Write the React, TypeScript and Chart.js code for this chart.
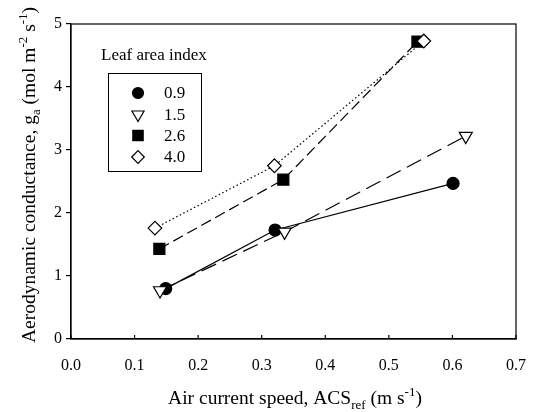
import React, { useEffect, useRef } from "react";
import { Chart, registerables } from "chart.js";
import { drawPoint } from "chart.js/helpers";

Chart.register(...registerables);

const legendTitle = "Leaf area index";
const seriesLabels = ["0.9", "1.5", "2.6", "4.0"];
const lai09X = [0.149, 0.321, 0.601];
const lai09Y = [0.8, 1.73, 2.47];
const lai15X = [0.14, 0.336, 0.621];
const lai15Y = [0.77, 1.7, 3.22];
const lai26X = [0.139, 0.334, 0.545];
const lai26Y = [1.43, 2.53, 4.72];
const lai40X = [0.132, 0.32, 0.555];
const lai40Y = [1.76, 2.75, 4.73];
const xTicks = [0, 0.1, 0.2, 0.3, 0.4, 0.5, 0.6, 0.7];
const yTicks = [0, 1, 2, 3, 4, 5];

const SERIF = "'Liberation Serif', 'DejaVu Serif', serif";

type Seg = { t: string; k: "n" | "sub" | "sup" };

function drawRich(ctx: CanvasRenderingContext2D, segs: Seg[], cx: number, cy: number, rot: number, size: number) {
  const small = Math.round(size * 0.68);
  ctx.save();
  ctx.translate(cx, cy);
  ctx.rotate(rot);
  let total = 0;
  const widths = segs.map((s) => {
    ctx.font = `${s.k === "n" ? size : small}px ${SERIF}`;
    const w = ctx.measureText(s.t).width;
    total += w;
    return w;
  });
  let x = -total / 2;
  ctx.fillStyle = "#000";
  ctx.textBaseline = "alphabetic";
  ctx.textAlign = "left";
  const base = size * 0.35;
  segs.forEach((s, i) => {
    ctx.font = `${s.k === "n" ? size : small}px ${SERIF}`;
    const dy = s.k === "sub" ? size * 0.25 : s.k === "sup" ? -size * 0.4 : 0;
    ctx.fillText(s.t, x, base + dy);
    x += widths[i];
  });
  ctx.restore();
}

const markerStyles = [
  { style: "circle", radius: 6, rotation: 0, fill: "#000" },
  { style: "triangle", radius: 7.5, rotation: 180, fill: "#fff" },
  { style: "rect", radius: 7.8, rotation: 0, fill: "#000" },
  { style: "rectRot", radius: 6.8, rotation: 0, fill: "#fff" },
];

const overlay = {
  id: "overlay",
  afterDraw(chart: any) {
    const ctx: CanvasRenderingContext2D = chart.ctx;
    const a = chart.chartArea;
    const xs = chart.scales.x;
    ctx.save();
    // frame
    ctx.strokeStyle = "#000";
    ctx.lineWidth = 1.2;
    ctx.strokeRect(a.left, a.top, a.right - a.left, a.bottom - a.top);
    // x inward ticks
    xTicks.forEach((v) => {
      const px = xs.getPixelForValue(v);
      ctx.beginPath();
      ctx.moveTo(px, a.bottom);
      ctx.lineTo(px, a.bottom - 4);
      ctx.stroke();
    });
    // legend
    ctx.fillStyle = "#000";
    ctx.font = `17px ${SERIF}`;
    ctx.textBaseline = "middle";
    ctx.textAlign = "left";
    ctx.fillText(legendTitle, 101, 56);
    ctx.lineWidth = 1;
    ctx.strokeRect(108.5, 73.5, 93, 98);
    const ys = [93, 114.5, 135.5, 157];
    seriesLabels.forEach((lab, i) => {
      const m = markerStyles[i];
      ctx.fillStyle = m.fill;
      ctx.strokeStyle = "#000";
      ctx.lineWidth = 1.2;
      drawPoint(ctx, { pointStyle: m.style as any, radius: m.radius - 0.5, rotation: m.rotation, borderWidth: 1.2 } as any, 138, ys[i]);
      ctx.fillStyle = "#000";
      ctx.font = `17px ${SERIF}`;
      ctx.fillText(lab, 164, ys[i] + 1);
    });
    // axis titles
    drawRich(
      ctx,
      [
        { t: "Air current speed, ACS", k: "n" },
        { t: "ref", k: "sub" },
        { t: " (m s", k: "n" },
        { t: "-1", k: "sup" },
        { t: ")", k: "n" },
      ],
      295,
      397,
      0,
      19.5
    );
    drawRich(
      ctx,
      [
        { t: "Aerodynamic conductance, g", k: "n" },
        { t: "a", k: "sub" },
        { t: " (mol m", k: "n" },
        { t: "-2", k: "sup" },
        { t: " s", k: "n" },
        { t: "-1", k: "sup" },
        { t: ")", k: "n" },
      ],
      28,
      175,
      -Math.PI / 2,
      19.5
    );
    ctx.restore();
  },
};

function mk(xs: number[], ys: number[]) {
  return xs.map((x, i) => ({ x, y: ys[i] }));
}

export default function App() {
  const ref = useRef<HTMLCanvasElement>(null);
  useEffect(() => {
    if (!ref.current) return;
    const dashes = [[], [16, 7], [11, 5], [1.5, 2.5]];
    const series = [
      mk(lai09X, lai09Y),
      mk(lai15X, lai15Y),
      mk(lai26X, lai26Y),
      mk(lai40X, lai40Y),
    ];
    const datasets = series.map((data, i) => ({
      label: seriesLabels[i],
      data,
      showLine: true,
      borderColor: "#000",
      borderWidth: 1.2,
      borderDash: dashes[i],
      pointStyle: markerStyles[i].style,
      pointRadius: markerStyles[i].radius,
      pointRotation: markerStyles[i].rotation,
      pointBackgroundColor: markerStyles[i].fill,
      pointBorderColor: "#000",
      pointBorderWidth: 1.2,
      order: 3 - i,
    }));
    const chart = new Chart(ref.current, {
      type: "scatter",
      data: { datasets: datasets as any },
      plugins: [overlay],
      options: {
        animation: false,
        responsive: false,
        devicePixelRatio: 1,
        layout: { padding: { left: 0, top: 24, right: 14, bottom: 0 } },
        plugins: { legend: { display: false }, tooltip: { enabled: false } },
        scales: {
          x: {
            type: "linear",
            min: 0,
            max: 0.7,
            afterFit: (s: any) => {
              s.height = 73;
            },
            afterBuildTicks: (s: any) => {
              s.ticks = xTicks.map((v) => ({ value: v }));
            },
            ticks: {
              color: "#000",
              font: { family: SERIF, size: 16 },
              padding: 9,
              callback: (v: any) => Number(v).toFixed(1),
            },
            grid: { display: false },
            border: { display: true, color: "#000", width: 1.2 },
          },
          y: {
            type: "linear",
            min: 0,
            max: 5,
            afterFit: (s: any) => {
              s.width = 71;
            },
            afterBuildTicks: (s: any) => {
              s.ticks = yTicks.map((v) => ({ value: v }));
            },
            ticks: {
              color: "#000",
              font: { family: SERIF, size: 16 },
              padding: 4,
              callback: (v: any) => String(v),
            },
            grid: { display: true, drawOnChartArea: false, tickLength: 5, color: "#000", lineWidth: 1.2 },
            border: { display: true, color: "#000", width: 1.2 },
          },
        },
      },
    });
    return () => chart.destroy();
  }, []);
  return (
    <div style={{ position: "fixed", left: 0, top: 0, width: 535, height: 412, background: "#fff" }}>
      <canvas ref={ref} width={535} height={412} style={{ width: 535, height: 412 }} />
    </div>
  );
}
